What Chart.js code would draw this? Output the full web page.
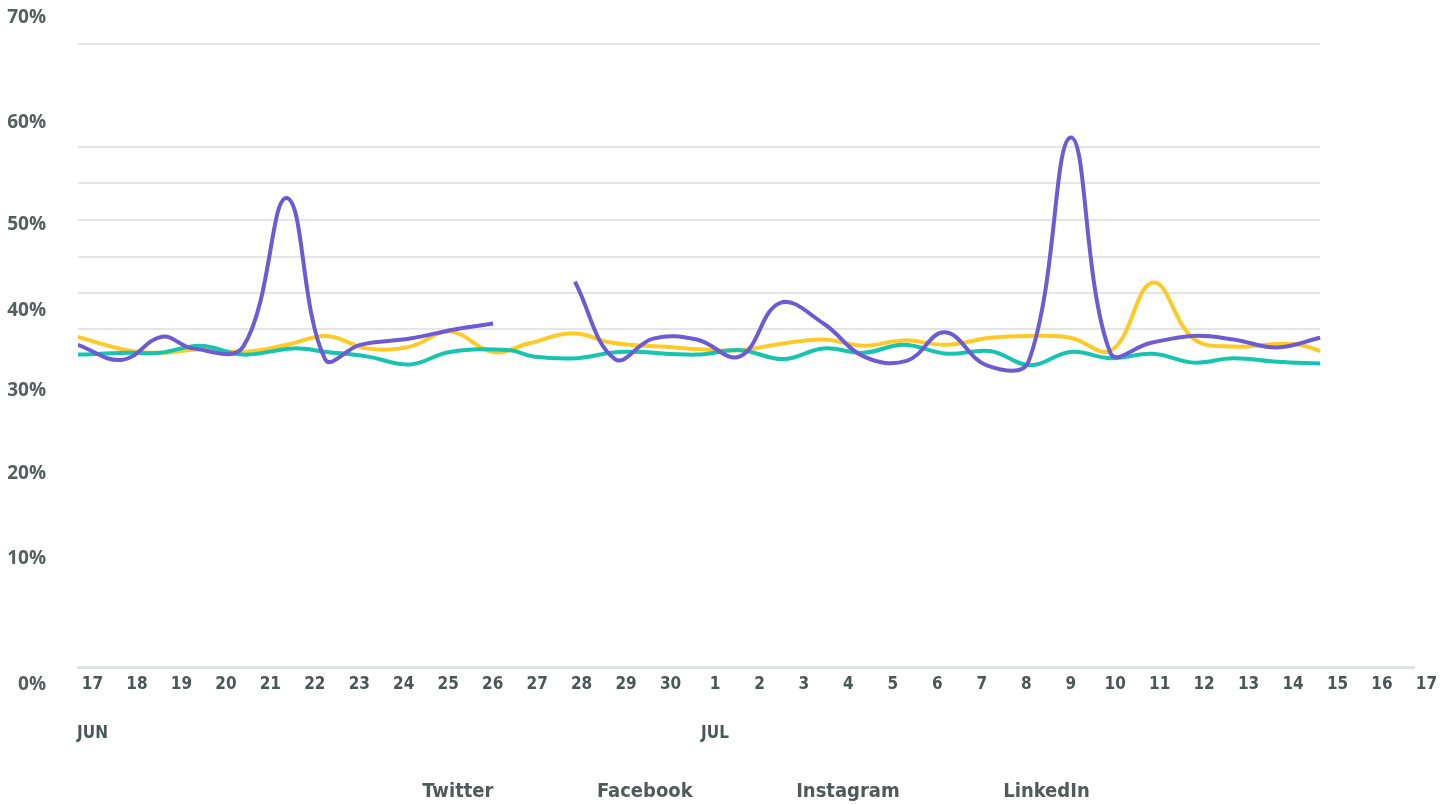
<!DOCTYPE html>
<html>
<head>
<meta charset="utf-8">
<script src="https://cdn.jsdelivr.net/npm/chart.js"></script>
<style>
  html, body { margin: 0; padding: 0; background: #ffffff; }
  #wrap { width: 1452px; height: 804px; }
  canvas { display: block; }
</style>
</head>
<body>
<div id="wrap"><canvas id="chart" width="1452" height="804"></canvas></div>
<script>
// ---- tick labels ----
const dayLabels = ['17','18','19','20','21','22','23','24','25','26','27','28','29','30',
                   '1','2','3','4','5','6','7','8','9','10','11','12','13','14','15','16','17'];
const monthLabels = ['JUN','','','','','','','','','','','','','',
                     'JUL','','','','','','','','','','','','','','','',''];
const yLabelText = ['70%','60%','50%','40%','30%','20%','10%','0%'];
const yLabelAt   = [73.0, 61.2, 49.7, 40.1, 31.1, 21.7, 12.2, -2.0];
const gridAt     = [38.0, 42.0, 46.1, 50.2, 54.4, 58.4, 70];

// ---- series (day index from 17 Jun, value in %) ----
const seriesNames = ['Twitter', 'Facebook', 'Instagram', 'LinkedIn'];

const twitterDays = [-0.33, 0.66, 1.56, 2.26, 3.39, 4.37, 5.23, 6.02, 7.14, 8.11, 9.01, 9.9,
                     10.85, 11.75, 12.61, 13.59, 14.56, 15.46, 16.44, 17.34, 18.31, 19.17, 20.11,
                     21.05, 22.0, 22.89, 23.79, 24.76, 25.66, 26.64, 27.61];
const twitterVals = [36.2, 34.5, 37.1, 35.8, 36.0, 52.7, 34.6, 36.2, 36.9, 37.9, 38.6, null,
                     43.3, 34.6, 36.9, 36.8, 34.9, 40.9, 38.6, 34.9, 34.4, 37.6, 33.9,
                     34.3, 59.5, 35.3, 36.4, 37.2, 36.8, 35.9, 37.0];

const facebookDays = [-0.33, 0.77, 1.52, 2.42, 3.39, 4.51, 5.27, 6.17, 7.14, 8.04, 9.39, 9.91,
                      10.89, 11.86, 13.59, 14.56, 15.54, 16.44, 17.34, 18.24, 19.21, 20.19,
                      21.09, 21.99, 22.92, 23.85, 24.76, 25.66, 26.64, 27.61];
const facebookVals = [35.1, 35.3, 35.3, 36.1, 35.1, 35.8, 35.4, 34.9, 34.0, 35.4, 35.6, 34.9,
                      34.7, 35.4, 35.1, 35.6, 34.6, 35.8, 35.3, 36.2, 35.2, 35.5,
                      33.9, 35.4, 34.7, 35.2, 34.2, 34.7, 34.3, 34.1];

const instagramDays = [-0.33, 0.77, 1.59, 2.42, 3.39, 4.37, 5.27, 6.17, 7.14, 8.04, 9.01, 9.84,
                       10.81, 11.71, 12.84, 13.66, 14.56, 15.46, 16.44, 17.34, 18.24, 19.21,
                       20.19, 21.09, 21.99, 22.92, 23.85, 24.76, 25.66, 26.64, 27.15, 27.61];
const instagramVals = [37.1, 35.6, 35.3, 35.7, 35.4, 36.2, 37.2, 35.8, 36.0, 37.7, 35.4, 36.4,
                       37.5, 36.4, 36.0, 35.7, 35.6, 36.3, 36.8, 36.1, 36.7, 36.2,
                       37.0, 37.2, 37.0, 35.6, 43.2, 36.9, 36.0, 36.3, 36.2, 35.5];

const linkedinDays = [];
const linkedinVals = [];

const seriesColors = ['#6c5bd4', '#16c4af', '#ffc926', '#8a8f8f'];

// ---- helpers ----
const toPoints = (days, vals) => days.map((d, i) => ({ x: d, y: vals[i] }));
const lastDataDay = Math.max(...twitterDays, ...facebookDays, ...instagramDays);

const condensed = '"DejaVu Sans Condensed", "Liberation Sans Narrow", "Open Sans", sans-serif';

const partialGrid = {
  id: 'partialGrid',
  beforeDatasetsDraw(chart) {
    const { ctx, chartArea, scales: { x, y } } = chart;
    const endX = x.getPixelForValue(lastDataDay);
    ctx.save();
    ctx.strokeStyle = '#e4e6e6';
    ctx.lineWidth = 2;
    gridAt.forEach(v => {
      const py = Math.round(y.getPixelForValue(v));
      ctx.beginPath();
      ctx.moveTo(chartArea.left, py);
      ctx.lineTo(endX, py);
      ctx.stroke();
    });
    ctx.restore();
  }
};

const allDays = [twitterDays, facebookDays, instagramDays, linkedinDays];
const allVals = [twitterVals, facebookVals, instagramVals, linkedinVals];

new Chart(document.getElementById('chart'), {
  type: 'line',
  data: {
    datasets: seriesNames.map((name, i) => ({
      label: name,
      data: toPoints(allDays[i], allVals[i]),
      borderColor: seriesColors[i],
      backgroundColor: seriesColors[i],
      borderWidth: 4,
      pointRadius: 0,
      pointHoverRadius: 0,
      tension: 0.4,
      spanGaps: false,
      fill: false
    }))
  },
  options: {
    responsive: false,
    animation: false,
    layout: { padding: { top: 44, right: 38, bottom: -8, left: 0 } },
    plugins: {
      tooltip: { enabled: false },
      legend: {
        position: 'bottom',
        labels: {
          font: { family: condensed, size: 20, weight: 'bold' },
          color: '#4f5a5a',
          boxWidth: 88,
          padding: 5.5,
          generateLabels: (chart) => Chart.defaults.plugins.legend.labels.generateLabels(chart)
            .map(l => Object.assign(l, { fillStyle: 'rgba(0,0,0,0)', strokeStyle: 'rgba(0,0,0,0)', lineWidth: 0 }))
        }
      }
    },
    scales: {
      x: {
        type: 'linear',
        min: -0.326,
        max: 29.72,
        grid: { display: false, drawTicks: false, tickLength: 0 },
        border: { display: true, color: '#dfe2e2', width: 3 },
        afterBuildTicks: (scale) => { scale.ticks = dayLabels.map((_, i) => ({ value: i })); },
        ticks: {
          autoSkip: false,
          maxRotation: 0,
          minRotation: 0,
          padding: 5.75,
          color: '#4b5757',
          font: { family: condensed, size: 17, weight: 'bold', lineHeight: 1.441 },
          callback: (value, index) => monthLabels[index]
            ? [dayLabels[index], '', monthLabels[index], '']
            : dayLabels[index]
        }
      },
      y: {
        type: 'linear',
        min: 0,
        max: 70,
        grid: { display: false, drawTicks: false, tickLength: 0 },
        border: { display: false },
        afterBuildTicks: (scale) => { scale.ticks = yLabelAt.map(v => ({ value: v })); },
        afterFit: (scale) => { scale.width = 78; },
        ticks: {
          autoSkip: false,
          padding: 32,
          color: '#56605f',
          font: { family: '"Open Sans", sans-serif', size: 19, weight: 'bold', lineHeight: 1 },
          callback: (value, index) => yLabelText[index]
        }
      }
    }
  },
  plugins: [partialGrid]
});
</script>
</body>
</html>
